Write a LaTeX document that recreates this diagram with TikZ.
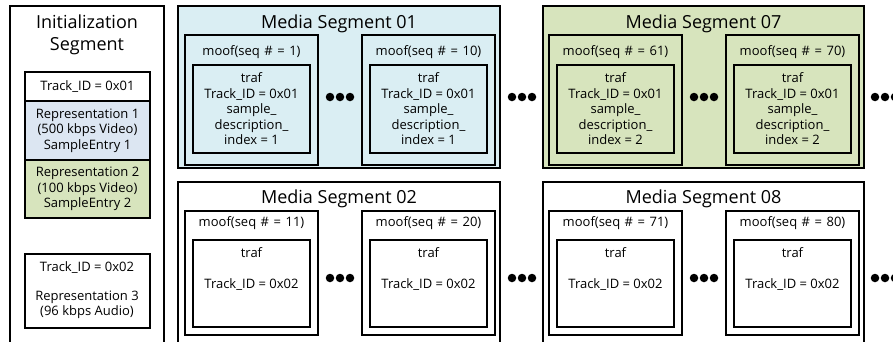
\documentclass[tikz,border=0pt]{standalone}
\usepackage{fontspec}
\setmainfont{Open Sans}
\usetikzlibrary{calc}
\definecolor{segblue}{HTML}{DAEEF3}
\definecolor{seggreen}{HTML}{D7E4BD}
\definecolor{repblue}{HTML}{DCE6F2}
\tikzset{
  segbox/.style={draw=black, line width=2.2pt, inner sep=0pt, outer sep=0pt, anchor=north west},
  moofbox/.style={draw=black, line width=2.6pt, inner sep=0pt, outer sep=0pt, anchor=north west},
  trafbox/.style={draw=black, line width=2.6pt, inner sep=0pt, outer sep=0pt, anchor=north west},
  title/.style={font=\fontsize{18}{21}\selectfont, inner sep=0pt, align=center},
  lbl/.style={font=\fontsize{13}{15.5}\selectfont, inner sep=0pt, align=center},
  mooflbl/.style={font=\fontsize{13}{15.5}\selectfont, inner sep=0pt, align=center},
  dot/.style={circle, fill=black, inner sep=0pt, minimum size=8.5pt},
}
\newcommand{\mooftext}[1]{moof(seq\hspace{4.5pt}\#\hspace{4.5pt}=\hspace{4.5pt}#1)}
\begin{document}
\begin{tikzpicture}[x=1pt,y=-1pt]
\useasboundingbox (0,0) rectangle (893,341);
\clip (0,0) rectangle (893,341);

% Initialization segment
\node[segbox, line width=2pt, minimum width=154pt, minimum height=350pt] (init) at (10,6) {};
\node[title] (inittitle) at (87,35) {Initialization\\[1pt]Segment};
\node[trafbox, minimum width=125pt, minimum height=29pt] (tid1) at (25,72) {};
\node[lbl] at (tid1.center) {Track\_ID = 0x01};
\node[trafbox, fill=repblue, minimum width=125pt, minimum height=59pt] (rep1) at (25,101) {};
\node[lbl] at (rep1.center) {Representation 1\\(500 kbps Video)\\SampleEntry 1};
\node[trafbox, fill=seggreen, minimum width=125pt, minimum height=58pt] (rep2) at (25,160) {};
\node[lbl] at (rep2.center) {Representation 2\\(100 kbps Video)\\SampleEntry 2};
\node[trafbox, minimum width=125pt, minimum height=74pt] (tid2) at (25,254) {};
\node[lbl] (tid2l) at (87,268) {Track\_ID = 0x02};
\node[lbl] (rep3l) at (87,305) {Representation 3\\(96 kbps Audio)};

% Top row: media segments carrying track 0x01
\node[segbox, fill=segblue, minimum width=322pt, minimum height=162pt] (ms01) at (178,6) {};
\node[title] (ms01t) at ($(ms01.north)+(0,18)$) {Media Segment 01};
\node[segbox, fill=seggreen, minimum width=321pt, minimum height=162pt] (ms07) at (543,6) {};
\node[title] (ms07t) at ($(ms07.north)+(0,18)$) {Media Segment 07};

\foreach \x/\s/\n/\c/\k in {185/1/1/segblue/a, 362/10/1/segblue/b, 549/61/2/seggreen/c, 726/70/2/seggreen/d} {
  \node[moofbox, fill=\c, minimum width=133pt, minimum height=130pt] (moof\k) at (\x,35) {};
  \node[mooflbl] (moofl\k) at ($(moof\k.north)+(0,17)$) {\mooftext{\s}};
  \node[trafbox, fill=\c, minimum width=117pt, minimum height=88pt] (traf\k) at (\x+8,65) {};
  \node[lbl] (trafl\k) at (traf\k.center) {traf\\Track\_ID = 0x01\\sample\_\\description\_\\index = \n};
}

% Bottom row: media segments carrying track 0x02
\node[segbox, minimum width=322pt, minimum height=170pt] (ms02) at (178,182) {};
\node[title] (ms02t) at ($(ms02.north)+(0,17)$) {Media Segment 02};
\node[segbox, minimum width=321pt, minimum height=170pt] (ms08) at (543,182) {};
\node[title] (ms08t) at ($(ms08.north)+(0,17)$) {Media Segment 08};

\foreach \x/\s/\k in {185/11/e, 362/20/f, 549/71/g, 726/80/h} {
  \node[moofbox, minimum width=133pt, minimum height=124pt] (moof\k) at (\x,211) {};
  \node[mooflbl] (moofl\k) at ($(moof\k.north)+(0,12)$) {\mooftext{\s}};
  \node[trafbox, minimum width=117pt, minimum height=87pt] (traf\k) at (\x+8,240) {};
  \node[lbl] (trafa\k) at ($(traf\k.north)+(0,13)$) {traf};
  \node[lbl] (trafb\k) at ($(traf\k.north)+(0,45)$) {Track\_ID = 0x02};
}

% Ellipses between fragments and segments
\foreach \cx/\cy/\k in {340/97/a, 522/97/b, 704/97/c, 885/97/d, 340/278/e, 522/278/f, 704/278/g, 885/278/h} {
  \node[dot] (dl\k) at (\cx-10,\cy) {};
  \node[dot] (dm\k) at (\cx,\cy) {};
  \node[dot] (dr\k) at (\cx+10,\cy) {};
}
\end{tikzpicture}
\end{document}
